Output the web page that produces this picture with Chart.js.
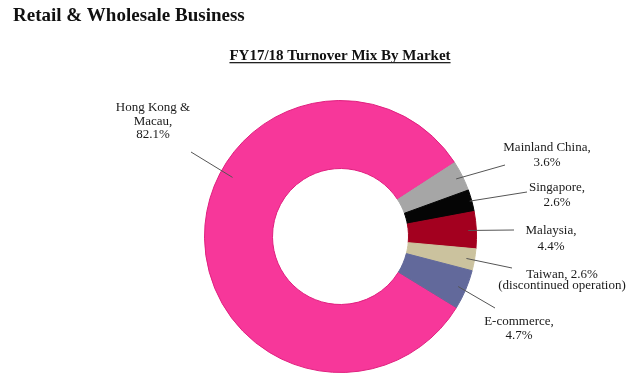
<!DOCTYPE html>
<html>
<head>
<meta charset="utf-8">
<script src="https://cdn.jsdelivr.net/npm/chart.js@4/dist/chart.umd.min.js"></script>
<style>
  html, body { margin: 0; padding: 0; background: #ffffff; }
  #wrap { position: relative; width: 640px; height: 379px; }
  canvas { display: block; }
</style>
</head>
<body>
<div id="wrap"><canvas id="c" width="640" height="379"></canvas></div>
<script>
// ---- data ----
const pageTitle = 'Retail & Wholesale Business';
const chartTitle = 'FY17/18 Turnover Mix By Market';
const markets = ['Hong Kong & Macau', 'Mainland China', 'Singapore', 'Malaysia', 'Taiwan', 'E-commerce'];
const shares = [82.1, 3.6, 2.6, 4.4, 2.6, 4.7];
const labelTexts = [
  ['Hong Kong &', 'Macau,', '82.1%'],
  ['Mainland China,', '3.6%'],
  ['Singapore,', '2.6%'],
  ['Malaysia,', '4.4%'],
  ['Taiwan, 2.6%', '(discontinued operation)'],
  ['E-commerce,', '4.7%']
];

// ---- styles / layout ----
const sliceColors = ['#F7379A', '#A6A6A6', '#050505', '#A3001F', '#CBC29E', '#62699B'];
const sliceBorders = ['#E0207F', '#A6A6A6', '#050505', '#A3001F', '#CBC29E', '#62699B'];
// label anchor (center x, first-line middle y), line spacing, leader end point, leader start angle override (deg from top, clockwise) and radius fraction
const labelLayout = [
  { x: 153, y: 108, lh: 13.2, ex: 191, ey: 152, angle: 298.7, rf: 0.81 },
  { x: 547, y: 148, lh: 15,   ex: 505, ey: 165, angle: null,  rf: 0.9 },
  { x: 557, y: 188, lh: 15,   ex: 527, ey: 192, angle: null,  rf: 0.97 },
  { x: 551, y: 231, lh: 15.5, ex: 514, ey: 230, angle: null,  rf: 0.88 },
  { x: 562, y: 275, lh: 10.5, ex: 512, ey: 268, angle: null,  rf: 0.88 },
  { x: 519, y: 322, lh: 13.5, ex: 495, ey: 308, angle: null,  rf: 0.88 }
];
const FONT = '"Liberation Serif", "Times New Roman", serif';

const annotatePlugin = {
  id: 'annotate',
  afterDraw(chart) {
    const ctx = chart.ctx;
    ctx.save();
    // page title
    ctx.fillStyle = '#111';
    ctx.font = 'bold 19px ' + FONT;
    ctx.textAlign = 'left';
    ctx.textBaseline = 'alphabetic';
    ctx.fillText(pageTitle, 13, 21);
    // chart title, underlined
    ctx.font = 'bold 15px ' + FONT;
    ctx.textAlign = 'center';
    ctx.fillText(chartTitle, 340, 60);
    const w = ctx.measureText(chartTitle).width;
    ctx.fillStyle = '#222';
    ctx.fillRect(340 - w / 2, 62, w, 1.3);

    // leader lines + labels
    const meta = chart.getDatasetMeta(0);
    ctx.font = '13px ' + FONT;
    ctx.textAlign = 'center';
    ctx.textBaseline = 'middle';
    meta.data.forEach((arc, i) => {
      const L = labelLayout[i];
      const p = arc.getProps(['x', 'y', 'startAngle', 'endAngle', 'innerRadius', 'outerRadius'], true);
      let ang = (p.startAngle + p.endAngle) / 2;
      if (L.angle !== null) ang = (L.angle - 90) * Math.PI / 180;
      const r = p.innerRadius + L.rf * (p.outerRadius - p.innerRadius);
      const sx = p.x + Math.cos(ang) * r;
      const sy = p.y + Math.sin(ang) * r;
      ctx.strokeStyle = '#555';
      ctx.lineWidth = 1;
      ctx.beginPath();
      ctx.moveTo(sx, sy);
      ctx.lineTo(L.ex, L.ey);
      ctx.stroke();
      ctx.fillStyle = '#1a1a1a';
      labelTexts[i].forEach((t, k) => ctx.fillText(t, L.x, L.y + k * L.lh));
    });
    ctx.restore();
  }
};

new Chart(document.getElementById('c'), {
  type: 'doughnut',
  data: {
    labels: markets,
    datasets: [{
      data: shares,
      backgroundColor: sliceColors,
      borderColor: sliceBorders,
      borderWidth: 1,
      hoverOffset: 0
    }]
  },
  options: {
    responsive: false,
    animation: false,
    rotation: 121.5,
    cutout: '50%',
    layout: { padding: { left: 204, right: 163, top: 100, bottom: 6 } },
    plugins: {
      legend: { display: false },
      title: { display: false },
      tooltip: { enabled: false }
    }
  },
  plugins: [annotatePlugin]
});
</script>
</body>
</html>
